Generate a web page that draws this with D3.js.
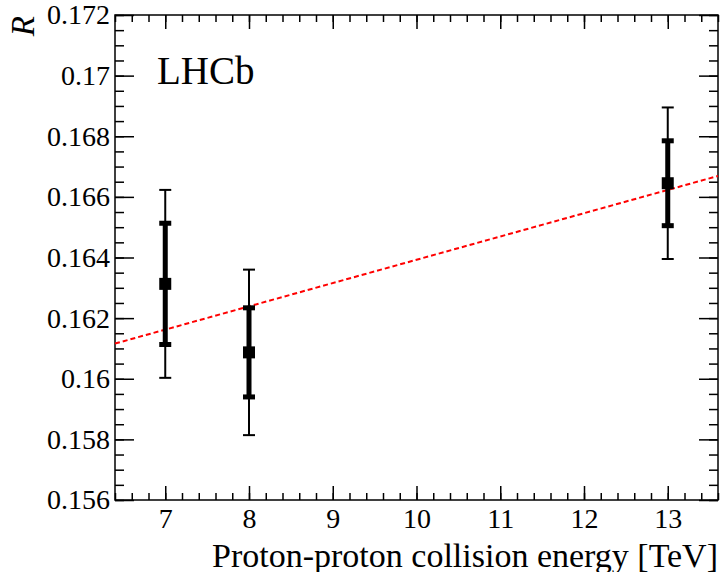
<!DOCTYPE html>
<html>
<head>
<meta charset="utf-8">
<script src="https://cdn.jsdelivr.net/npm/d3@7"></script>
<style>
  body { margin: 0; background: #fff; }
  svg text { font-family: "Liberation Serif", "DejaVu Serif", serif; fill: #000; }
</style>
</head>
<body>
<script>
// data
const energies = [7, 8, 13];
const ratio = [0.16313, 0.16087, 0.16645];
const statErr = [0.0020, 0.00147, 0.0014];
const totErr = [0.0031, 0.00273, 0.0025];

// linear fit, endpoints at the frame edges
const fitX = [6.4, 13.6];
const fitY = [0.16116, 0.16669];

const xTicks = [7, 8, 9, 10, 11, 12, 13];
const xMinor = d3.range(6.4, 13.61, 0.2);
const yTicks = [0.156, 0.158, 0.16, 0.162, 0.164, 0.166, 0.168, 0.17, 0.172];
const yMinor = d3.range(0.156, 0.17201, 0.0005);

const width = 722, height = 572;
const margin = { top: 15, right: 4, bottom: 72, left: 115 };

const svg = d3.select("body").append("svg")
    .attr("width", width)
    .attr("height", height);

const x = d3.scaleLinear()
    .domain([6.4, 13.6])
    .range([margin.left, width - margin.right]);

const y = d3.scaleLinear()
    .domain([0.156, 0.172])
    .range([height - margin.bottom, margin.top]);

const x0 = x.range()[0], x1 = x.range()[1];
const y0 = y.range()[0], y1 = y.range()[1];

function styleAxis(g) {
    g.attr("font-family", null);
    g.select(".domain").remove();
    g.selectAll(".tick line").attr("stroke", "#000").attr("stroke-width", 1.5);
    g.selectAll("text").attr("font-size", 28);
}

// bottom axis
svg.append("g")
    .attr("transform", `translate(0,${y0})`)
    .call(d3.axisBottom(x).tickValues(xMinor).tickSize(-7).tickFormat(""))
    .call(styleAxis);
svg.append("g")
    .attr("transform", `translate(0,${y0})`)
    .call(d3.axisBottom(x).tickValues(xTicks).tickSize(-14).tickPadding(8).tickFormat(d3.format("d")))
    .call(styleAxis);

// top axis (mirror)
svg.append("g")
    .attr("transform", `translate(0,${y1})`)
    .call(d3.axisTop(x).tickValues(xMinor).tickSize(-7).tickFormat(""))
    .call(styleAxis);
svg.append("g")
    .attr("transform", `translate(0,${y1})`)
    .call(d3.axisTop(x).tickValues(xTicks).tickSize(-14).tickFormat(""))
    .call(styleAxis);

// left axis
svg.append("g")
    .attr("transform", `translate(${x0},0)`)
    .call(d3.axisLeft(y).tickValues(yMinor).tickSize(-9).tickFormat(""))
    .call(styleAxis);
svg.append("g")
    .attr("transform", `translate(${x0},0)`)
    .call(d3.axisLeft(y).tickValues(yTicks).tickSize(-19).tickPadding(5).tickFormat(d => String(+d.toFixed(3))))
    .call(styleAxis);

// right axis (mirror)
svg.append("g")
    .attr("transform", `translate(${x1},0)`)
    .call(d3.axisRight(y).tickValues(yMinor).tickSize(-9).tickFormat(""))
    .call(styleAxis);
svg.append("g")
    .attr("transform", `translate(${x1},0)`)
    .call(d3.axisRight(y).tickValues(yTicks).tickSize(-19).tickFormat(""))
    .call(styleAxis);

// frame
svg.append("rect")
    .attr("x", x0).attr("y", y1)
    .attr("width", x1 - x0).attr("height", y0 - y1)
    .attr("fill", "none")
    .attr("stroke", "#000")
    .attr("stroke-width", 1.5);

// fit line
svg.append("line")
    .attr("x1", x(fitX[0])).attr("y1", y(fitY[0]))
    .attr("x2", x(fitX[1])).attr("y2", y(fitY[1]))
    .attr("stroke", "#ff0000")
    .attr("stroke-width", 2)
    .attr("stroke-dasharray", "5,3");

const pts = energies.map((e, i) => ({ e, r: ratio[i], s: statErr[i], t: totErr[i] }));

const pg = svg.append("g");

// total error bars (thin)
pg.selectAll(".tot").data(pts).join("line")
    .attr("x1", d => x(d.e)).attr("x2", d => x(d.e))
    .attr("y1", d => y(d.r + d.t)).attr("y2", d => y(d.r - d.t))
    .attr("stroke", "#000").attr("stroke-width", 2);
pg.selectAll(".capT").data(pts.flatMap(d => [[d.e, d.r + d.t], [d.e, d.r - d.t]])).join("line")
    .attr("x1", d => x(d[0]) - 6).attr("x2", d => x(d[0]) + 6)
    .attr("y1", d => y(d[1])).attr("y2", d => y(d[1]))
    .attr("stroke", "#000").attr("stroke-width", 2);

// stat error bars (thick)
pg.selectAll(".stat").data(pts).join("rect")
    .attr("x", d => x(d.e) - 2.5)
    .attr("y", d => y(d.r + d.s))
    .attr("width", 5)
    .attr("height", d => y(d.r - d.s) - y(d.r + d.s))
    .attr("fill", "#000");
pg.selectAll(".capS").data(pts.flatMap(d => [[d.e, d.r + d.s], [d.e, d.r - d.s]])).join("rect")
    .attr("x", d => x(d[0]) - 6)
    .attr("y", d => y(d[1]) - 2.5)
    .attr("width", 12).attr("height", 5)
    .attr("fill", "#000");

// markers
pg.selectAll(".mk").data(pts).join("rect")
    .attr("x", d => x(d.e) - 6)
    .attr("y", d => y(d.r) - 6)
    .attr("width", 12).attr("height", 12)
    .attr("fill", "#000");

// labels
svg.append("text")
    .attr("x", 157).attr("y", 84)
    .attr("font-size", 39)
    .text("LHCb");

svg.append("text")
    .attr("transform", `translate(34,16) rotate(-90)`)
    .attr("text-anchor", "end")
    .attr("font-size", 33)
    .attr("font-style", "italic")
    .text("R");

svg.append("text")
    .attr("x", 718).attr("y", 567)
    .attr("text-anchor", "end")
    .attr("font-size", 34)
    .text("Proton-proton collision energy [TeV]");
</script>
</body>
</html>
